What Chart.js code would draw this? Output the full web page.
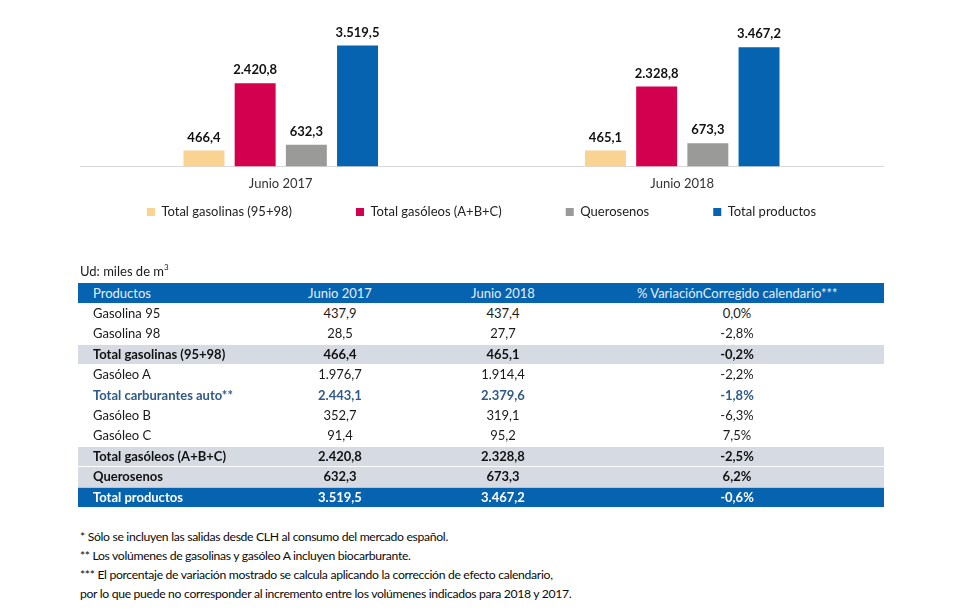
<!DOCTYPE html>
<html>
<head>
<meta charset="utf-8">
<script src="https://cdn.jsdelivr.net/npm/chart.js@4.4.1/dist/chart.umd.min.js"></script>
<style>
  html, body { margin: 0; padding: 0; background: #ffffff; }
  body { width: 965px; height: 611px; position: relative; overflow: hidden; font-family: "Lato", "Open Sans", sans-serif; color: #1a1a1a; }
  #chartWrap { position: absolute; left: 0; top: 0; width: 965px; height: 289px; }
  .abs { position: absolute; white-space: nowrap; font-size: 13px; line-height: 20px; }
  #unit { left: 80px; top: 261px; }
  #unit sup { font-size: 8px; vertical-align: 6px; line-height: 0; }
  .band { position: absolute; left: 78px; width: 806px; }
  .cell { position: absolute; font-size: 13px; white-space: nowrap; }
  .notes { position: absolute; left: 80px; font-size: 12.2px; letter-spacing: -0.32px; line-height: 19px; color: #0a0a0a; }
</style>
</head>
<body>
<div id="chartWrap"><canvas id="c" width="965" height="289"></canvas></div>
<div class="abs" id="unit">Ud: miles de m<sup>3</sup></div>
<div id="table"></div>
<div class="notes" id="notes" style="top:527px"></div>
<script>
// ---- Chart data ----
const categories = ['Junio 2017', 'Junio 2018'];
const seriesNames = ['Total gasolinas (95+98)', 'Total gasóleos (A+B+C)', 'Querosenos', 'Total productos'];
const totalGasolinas = [466.4, 465.1];
const totalGasoleos = [2420.8, 2328.8];
const querosenos = [632.3, 673.3];
const totalProductos = [3519.5, 3467.2];

// ---- Table data ----
const tableHeaders = ['Productos', 'Junio 2017', 'Junio 2018', '% VariaciónCorregido calendario***'];
const tableProducts = ['Gasolina 95', 'Gasolina 98', 'Total gasolinas (95+98)', 'Gasóleo A', 'Total carburantes auto**', 'Gasóleo B', 'Gasóleo C', 'Total gasóleos (A+B+C)', 'Querosenos', 'Total productos'];
const table2017 = ['437,9', '28,5', '466,4', '1.976,7', '2.443,1', '352,7', '91,4', '2.420,8', '632,3', '3.519,5'];
const table2018 = ['437,4', '27,7', '465,1', '1.914,4', '2.379,6', '319,1', '95,2', '2.328,8', '673,3', '3.467,2'];
const tableVariation = ['0,0%', '-2,8%', '-0,2%', '-2,2%', '-1,8%', '-6,3%', '7,5%', '-2,5%', '6,2%', '-0,6%'];

const footnotes = [
  '* Sólo se incluyen las salidas desde CLH al consumo del mercado español.',
  '** Los volúmenes de gasolinas y gasóleo A incluyen biocarburante.',
  '*** El porcentaje de variación mostrado se calcula aplicando la corrección de efecto calendario,',
  'por lo que puede no corresponder al incremento entre los volúmenes indicados para 2018 y 2017.'
];

// ---- styles (kept apart from data) ----
const seriesColors = ['#FAD291', '#D2004F', '#9A9B99', '#0563AF'];
const rowKinds = ['plain', 'plain', 'band', 'plain', 'blue', 'plain', 'plain', 'band', 'band2', 'total'];

function fmtES(v) {
  const parts = v.toFixed(1).split('.');
  const intPart = parts[0].replace(/\B(?=(\d{3})+(?!\d))/g, '.');
  return intPart + ',' + parts[1];
}

const barLabels = {
  id: 'barLabels',
  afterDatasetsDraw(chart) {
    const ctx = chart.ctx;
    ctx.save();
    ctx.font = 'bold 13px Lato, "Open Sans", sans-serif';
    ctx.fillStyle = '#111111';
    ctx.textAlign = 'center';
    ctx.textBaseline = 'middle';
    chart.data.datasets.forEach((ds, i) => {
      const meta = chart.getDatasetMeta(i);
      meta.data.forEach((el, j) => {
        ctx.fillText(fmtES(ds.data[j]), el.x, el.y - 13);
      });
    });
    ctx.restore();
  }
};

const legendShift = {
  id: 'legendShift',
  afterLayout(chart) {
    const L = chart.legend;
    if (!L) return;
    const pad = L.options.labels.padding;
    const cur = L.top + pad + 6.5;
    const d = cur - 212;
    L.top -= d; L.bottom -= d;
  }
};

const allSeries = [totalGasolinas, totalGasoleos, querosenos, totalProductos];

new Chart(document.getElementById('c'), {
  type: 'bar',
  data: {
    labels: categories,
    datasets: seriesNames.map((name, i) => ({
      label: name,
      data: allSeries[i],
      backgroundColor: seriesColors[i],
      borderWidth: 0,
      categoryPercentage: 0.51,
      barPercentage: 0.8
    }))
  },
  options: {
    responsive: false,
    animation: false,
    devicePixelRatio: 1,
    layout: { padding: { left: 80, right: 82, top: 29, bottom: 0 } },
    scales: {
      x: {
        grid: { display: false, drawTicks: false },
        border: { display: true, color: '#d9d9d9', width: 1 },
        ticks: { color: '#333333', font: { family: 'Lato', size: 13 }, padding: 10 }
      },
      y: { display: false, min: 0, max: 4000 }
    },
    plugins: {
      legend: {
        position: 'bottom',
        labels: {
          boxWidth: 8, boxHeight: 8, padding: 64,
          color: '#222222',
          font: { family: 'Lato', size: 13 }
        }
      },
      tooltip: { enabled: false }
    }
  },
  plugins: [barLabels, legendShift]
});

// ---- table ----
const table = document.getElementById('table');
const colCenters = [null, 340, 503, 737];
const tableTop = 283;
const rowH = 20.4;

function addCell(text, col, top, h, style) {
  const d = document.createElement('div');
  d.className = 'cell';
  d.textContent = text;
  d.style.top = top + 'px';
  d.style.height = h + 'px';
  d.style.lineHeight = h + 'px';
  if (col === 0) {
    d.style.left = '93px';
  } else {
    d.style.left = (colCenters[col] - 100) + 'px';
    d.style.width = '200px';
    d.style.textAlign = 'center';
  }
  Object.assign(d.style, style);
  table.appendChild(d);
}

// header band
const hb = document.createElement('div');
hb.className = 'band';
hb.style.top = tableTop + 'px';
hb.style.height = '20px';
hb.style.background = '#0563AF';
table.appendChild(hb);
tableHeaders.forEach((t, c) => addCell(t, c, tableTop, 20, { color: '#e4eefa' }));

tableProducts.forEach((name, i) => {
  const top = tableTop + 20 + i * rowH;
  const kind = rowKinds[i];
  let style = { color: '#1a1a1a' };
  if (kind === 'band' || kind === 'band2' || kind === 'total') {
    const b = document.createElement('div');
    b.className = 'band';
    b.style.top = (top + 1) + 'px';
    b.style.height = (rowH - 1) + 'px';
    b.style.background = kind === 'total' ? '#0563AF' : '#D6DBE3';
    table.appendChild(b);
    if (kind === 'total') {
      const ln = document.createElement('div');
      ln.className = 'band';
      ln.style.top = top + 'px';
      ln.style.height = '1px';
      ln.style.background = '#a8c8ea';
      table.appendChild(ln);
    }
  }
  if (kind === 'band' || kind === 'band2') style = { color: '#111111', fontWeight: 'bold' };
  if (kind === 'blue') style = { color: '#2E5A88', fontWeight: 'bold' };
  if (kind === 'total') style = { color: '#ffffff', fontWeight: 'bold' };
  addCell(name, 0, top, rowH, style);
  addCell(table2017[i], 1, top, rowH, style);
  addCell(table2018[i], 2, top, rowH, style);
  addCell(tableVariation[i], 3, top, rowH, style);
});

// ---- footnotes ----
const notes = document.getElementById('notes');
footnotes.forEach(t => {
  const d = document.createElement('div');
  d.textContent = t;
  notes.appendChild(d);
});
</script>
</body>
</html>
